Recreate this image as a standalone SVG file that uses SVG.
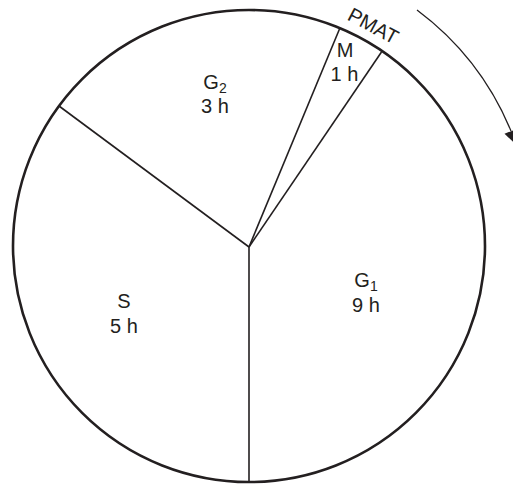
<svg xmlns="http://www.w3.org/2000/svg" width="513" height="484" viewBox="0 0 513 484">
<style>
.lbl{font-family:"Liberation Sans",Arial,sans-serif;font-size:20px;fill:#231f20;text-anchor:middle}
.sub{font-size:14px}
.spoke{stroke:#231f20;stroke-width:1.6;fill:none}
</style>
<rect width="513" height="484" fill="#fff"/>
<g id="cycle">
<circle cx="249" cy="246" r="236" fill="none" stroke="#231f20" stroke-width="2.6"/>
</g>
<g id="connectors">
<line class="spoke" x1="249" y1="247" x2="249" y2="482"/>
<line class="spoke" x1="249" y1="247" x2="59" y2="106"/>
<line class="spoke" x1="249" y1="247" x2="339.5" y2="29"/>
<line class="spoke" x1="249" y1="247" x2="381.5" y2="52"/>
<path d="M417 10 A288 288 0 0 1 511 131" fill="none" stroke="#231f20" stroke-width="1.3"/>
<polygon points="517.5,146 504.5,133.8 517.5,128.6" fill="#231f20"/>
</g>
<g id="G2"><text class="lbl" x="215" y="89">G<tspan class="sub" dy="4">2</tspan></text><text class="lbl" x="215" y="113">3 h</text></g>
<g id="M"><text class="lbl" x="345" y="57">M</text><text class="lbl" x="344.5" y="81">1 h</text></g>
<g id="S"><text class="lbl" x="124" y="308">S</text><text class="lbl" x="124" y="333">5 h</text></g>
<g id="G1"><text class="lbl" x="366" y="287">G<tspan class="sub" dy="4">1</tspan></text><text class="lbl" x="366" y="312">9 h</text></g>
<g id="PMAT"><text class="lbl" transform="translate(370,32) rotate(28)">PMAT</text></g>
</svg>
